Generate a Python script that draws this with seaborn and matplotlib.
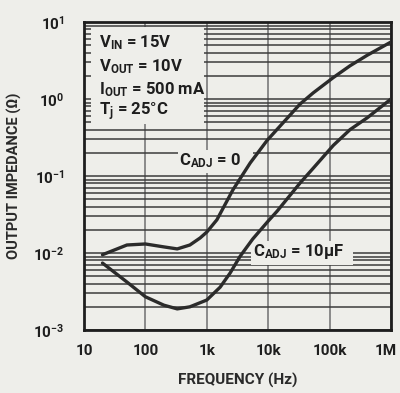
import matplotlib
matplotlib.use("Agg")
import matplotlib.pyplot as plt
import matplotlib.transforms as mtransforms
from matplotlib.patches import Rectangle
from matplotlib.ticker import FixedLocator, NullFormatter, LogLocator
import numpy as np
import pandas as pd
import seaborn as sns

# Output impedance vs frequency (log-log)
freq_cadj0 = [20, 50, 100, 200, 330, 530, 780, 1000, 1460, 2660, 5100, 9600,
              33000, 54000, 115000, 215000, 410000, 1000000]
z_cadj0 = [0.0095, 0.0127, 0.0131, 0.012, 0.0113, 0.0127, 0.0157, 0.0187, 0.027,
           0.066, 0.148, 0.29, 0.86, 1.2, 1.9, 2.7, 3.7, 5.5]

freq_cadj10 = [20, 50, 100, 200, 330, 530, 1000, 1650, 2400, 3500, 5600, 10000,
               14000, 33000, 54000, 115000, 215000, 410000, 1000000]
z_cadj10 = [0.0074, 0.0042, 0.0027, 0.0021, 0.00188, 0.002, 0.00245, 0.0036,
            0.0055, 0.0091, 0.0152, 0.026, 0.035, 0.081, 0.126, 0.25, 0.40,
            0.57, 1.0]

series_names = ["C_ADJ = 0", "C_ADJ = 10uF"]

x_ticks = [10, 100, 1000, 10000, 100000, 1000000]
x_ticklabels = ["10", "100", "1k", "10k", "100k", "1M"]
y_ticks = [1e-3, 1e-2, 1e-1, 1e0, 1e1]
y_ticklabels = [r"$10^{-3}$", r"$10^{-2}$", r"$10^{-1}$", r"$10^{0}$", r"$10^{1}$"]

df = pd.concat([
    pd.DataFrame({"freq": freq_cadj0, "z": z_cadj0, "series": series_names[0]}),
    pd.DataFrame({"freq": freq_cadj10, "z": z_cadj10, "series": series_names[1]}),
])

sns.set_theme(style="white")
paper = "#eeeeea"
ink = "#2b2b2b"
plt.rcParams["font.family"] = ["Roboto", "DejaVu Sans"]
plt.rcParams["font.weight"] = "bold"
plt.rcParams["axes.labelweight"] = "bold"
plt.rcParams["mathtext.fontset"] = "custom"
plt.rcParams["mathtext.rm"] = "Roboto:bold"
plt.rcParams["mathtext.it"] = "Roboto:bold"
plt.rcParams["mathtext.bf"] = "Roboto:bold"

fig = plt.figure(figsize=(4.0, 3.93), dpi=100, facecolor=paper)
ax = fig.add_axes([84 / 400, 1 - 330 / 393, 307 / 400, 308 / 393])
ax.set_facecolor(paper)

sns.lineplot(data=df, x="freq", y="z", hue="series",
             palette=[ink, ink], linewidth=2.4, legend=False, ax=ax,
             zorder=5, sort=False)

ax.set_xscale("log")
ax.set_yscale("log")
ax.set_xlim(10, 1e6)
ax.set_ylim(1e-3, 10)

# grid: decades vertically, every minor step horizontally
ax.xaxis.set_major_locator(FixedLocator(x_ticks))
ax.xaxis.set_minor_locator(FixedLocator([]))
ax.yaxis.set_major_locator(FixedLocator(y_ticks))
ax.yaxis.set_minor_locator(LogLocator(base=10, subs=np.arange(2, 10)))
ax.yaxis.set_minor_formatter(NullFormatter())
ax.set_xticklabels(x_ticklabels)
ax.set_yticklabels(y_ticklabels)
ax.grid(axis="x", which="major", color="#8a8a8a", linewidth=1.4)
ax.grid(axis="y", which="both", color="#3c3c3c", linewidth=1.1)
ax.tick_params(axis="x", which="both", length=0, pad=10,
               labelsize=11, labelcolor="#1e1e1e")
ax.tick_params(axis="y", which="both", length=0, pad=14,
               labelsize=11, labelcolor="#1e1e1e")

# keep the last frequency label inside the figure edge
last = ax.get_xticklabels()[-1]
last.set_transform(last.get_transform() +
                   mtransforms.ScaledTranslation(-5 / 100, 0, fig.dpi_scale_trans))

for s in ax.spines.values():
    s.set_visible(True)
    s.set_color("#1e1e1e")
    s.set_linewidth(2.0)

ax.set_xlabel("FREQUENCY (Hz)", fontsize=11, labelpad=11, color="#2a2a2a")
ax.set_ylabel("OUTPUT IMPEDANCE (Ω)", fontsize=10.5, labelpad=8, color="#2a2a2a")

# blank areas behind the annotations
def blank(x0, y0, x1, y1):
    ax.add_patch(Rectangle((x0, y0), x1 - x0, y1 - y0, transform=ax.transAxes,
                           facecolor=paper, edgecolor="none", zorder=3))

blank(0.022, 0.668, 0.39, 0.985)
blank(0.305, 0.51, 0.55, 0.585)
blank(0.545, 0.21, 0.875, 0.29)

cond = [(r"V$_{\rm IN}$ = 15V", 0.932),
        (r"V$_{\rm OUT}$ = 10V", 0.854),
        (r"I$_{\rm OUT}$ = 500 mA", 0.779),
        (r"T$_{\rm j}$ = 25°C", 0.708)]
for txt, yy in cond:
    ax.text(0.05, yy, txt, transform=ax.transAxes, fontsize=12,
            color="#1e1e1e", va="center", ha="left", zorder=6)

ax.text(0.31, 0.55, r"C$_{\rm ADJ}$ = 0", transform=ax.transAxes,
        fontsize=12, color="#1e1e1e", va="center", ha="left", zorder=6)
ax.text(0.55, 0.255, r"C$_{\rm ADJ}$ = 10μF", transform=ax.transAxes,
        fontsize=12, color="#1e1e1e", va="center", ha="left", zorder=6)

fig.savefig("out.png", dpi=100, facecolor=paper)
